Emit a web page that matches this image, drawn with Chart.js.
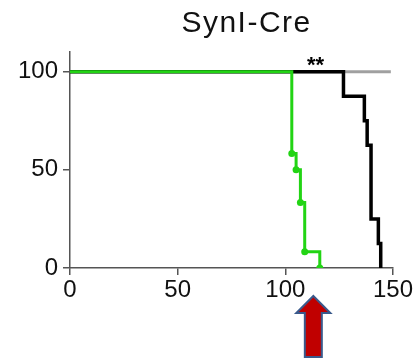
<!DOCTYPE html>
<html lang="en">
<head>
    <meta charset="UTF-8">
    <title>SynI-Cre</title>
    <script src="https://cdnjs.cloudflare.com/ajax/libs/Chart.js/4.3.2/chart.umd.js"></script>
    <style>
        html, body { margin: 0; padding: 0; background: #fff; }
        #wrap { width: 420px; height: 358px; }
    </style>
</head>
<body>
    <div id="wrap">
        <canvas id="canvasSurvival" aria-label="SynI-Cre survival" role="img"></canvas>
    </div>

    <script>
        // survival (%) vs days
        const greenDays = [0, 103, 105, 107, 109, 116]
        const greenPct  = [100, 58.3, 50, 33.3, 8.3, 0]

        const blackDays = [0, 127, 136.7, 138, 139.8, 143.2, 144.3]
        const blackPct  = [100, 87.5, 75, 62.5, 25, 12.5, 0]

        const grayDays = [0, 149]
        const grayPct  = [100, 100]

        const xTicks = [0, 50, 100, 150]
        const yTicks = [0, 50, 100]

        const titleText = 'SynI-Cre'
        const starsLabel = '**'
        const starsAt = { x: 114, y: 105.5 }
        const arrowAt = 113

        const toPoints = (xs, ys) => xs.map((x, i) => ({ x: x, y: ys[i] }))
        const FONT = 'Liberation Sans, Arial, sans-serif'

        const annotations = {
            id: 'annotations',
            afterDraw(chart) {
                const { ctx, scales, chartArea } = chart
                ctx.save()
                // title (a bit right of centre, like the original figure)
                ctx.fillStyle = '#111'
                ctx.font = '30px ' + FONT
                ctx.letterSpacing = '1.5px'
                ctx.textAlign = 'center'
                ctx.textBaseline = 'alphabetic'
                ctx.fillText(titleText, scales.x.getPixelForValue(82), 32)
                ctx.letterSpacing = '0px'

                // stars
                ctx.fillStyle = '#000'
                ctx.font = 'bold 22px ' + FONT
                ctx.textBaseline = 'middle'
                ctx.fillText(starsLabel, scales.x.getPixelForValue(starsAt.x), scales.y.getPixelForValue(starsAt.y) + 5)

                // red arrow under the axis
                const cx = scales.x.getPixelForValue(arrowAt)
                const tip = chartArea.bottom + 28
                const base = tip + 17
                const end = chart.height - 1
                ctx.beginPath()
                ctx.moveTo(cx, tip)
                ctx.lineTo(cx + 17, base)
                ctx.lineTo(cx + 8.5, base)
                ctx.lineTo(cx + 8.5, end)
                ctx.lineTo(cx - 8.5, end)
                ctx.lineTo(cx - 8.5, base)
                ctx.lineTo(cx - 17, base)
                ctx.closePath()
                ctx.fillStyle = '#c00000'
                ctx.fill()
                ctx.lineWidth = 2
                ctx.strokeStyle = '#3a5a8c'
                ctx.stroke()
                ctx.restore()
            }
        }

        const axisColor = '#555'

        new Chart(document.getElementById('canvasSurvival'), {
            type: 'line',
            data: {
                datasets: [
                    {
                        data: toPoints(greenDays, greenPct),
                        borderColor: '#22d414',
                        backgroundColor: '#22d414',
                        borderWidth: 3,
                        stepped: true,
                        pointRadius: c => c.dataIndex === 0 ? 0 : 3.5,
                        pointBorderWidth: 0,
                    },
                    {
                        data: toPoints(blackDays, blackPct),
                        borderColor: '#000',
                        borderWidth: 3.5,
                        stepped: true,
                        pointRadius: 0,
                    },
                    {
                        data: toPoints(grayDays, grayPct),
                        borderColor: '#a0a0a0',
                        borderWidth: 3,
                        stepped: true,
                        pointRadius: 0,
                    },
                ]
            },
            options: {
                responsive: true,
                maintainAspectRatio: false,
                animation: false,
                layout: { padding: { left: 1, right: 27, top: 52, bottom: 0 } },
                plugins: {
                    legend: { display: false },
                    tooltip: { enabled: false },
                    title: { display: false },
                },
                scales: {
                    x: {
                        type: 'linear',
                        min: 0,
                        max: 150,
                        afterBuildTicks: s => { s.ticks = xTicks.map(v => ({ value: v })) },
                        afterFit: s => { s.height = 90 },
                        ticks: { color: '#111', font: { family: FONT, size: 24 }, padding: 1, maxRotation: 0 },
                        grid: { drawOnChartArea: false, drawTicks: true, tickLength: 7, color: axisColor, lineWidth: 1.5 },
                        border: { display: true, color: axisColor, width: 1.5 },
                    },
                    y: {
                        min: 0,
                        max: 110,
                        afterBuildTicks: s => { s.ticks = yTicks.map(v => ({ value: v })) },
                        afterFit: s => { s.width = 69 },
                        ticks: { color: '#111', font: { family: FONT, size: 24 }, padding: 5 },
                        grid: { drawOnChartArea: false, drawTicks: true, tickLength: 7, color: axisColor, lineWidth: 1.5 },
                        border: { display: true, color: axisColor, width: 1.5 },
                    },
                },
            },
            plugins: [annotations],
        })
    </script>
</body>
</html>
